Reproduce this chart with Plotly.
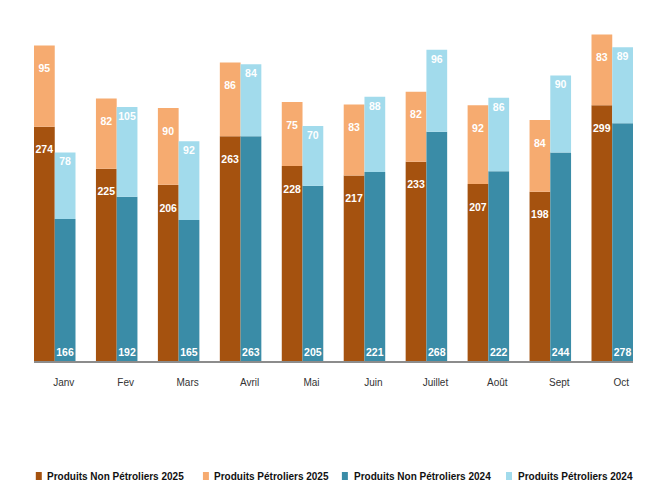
import plotly.graph_objects as go

months = ["Janv", "Fev", "Mars", "Avril", "Mai", "Juin", "Juillet", "Août", "Sept", "Oct"]
non_pet_2025 = [274, 225, 206, 263, 228, 217, 233, 207, 198, 299]
pet_2025 = [95, 82, 90, 86, 75, 83, 82, 92, 84, 83]
non_pet_2024 = [166, 192, 165, 263, 205, 221, 268, 222, 244, 278]
pet_2024 = [78, 105, 92, 84, 70, 88, 96, 86, 90, 89]

series_names = ["Produits Non Pétroliers 2025", "Produits Pétroliers 2025",
                "Produits Non Pétroliers 2024", "Produits Pétroliers 2024"]
colors = ["#A5520F", "#F6AB70", "#3A8CA7", "#A2DBEC"]

FONT = "Liberation Sans, Arial, sans-serif"
lab_font = dict(family=FONT, size=10.5, color="white")

fig = go.Figure()

def bar(i, y, base, group, anchor, pad_top):
    txt = [("\u00a0<br>" if pad_top else "") + f"<b>{v}</b>" for v in y]
    fig.add_trace(go.Bar(
        name=series_names[i], x=months, y=y, base=base, offsetgroup=group,
        marker=dict(color=colors[i], line=dict(width=0)),
        text=txt, textposition="inside",
        insidetextanchor=anchor, textangle=0, constraintext="none",
        textfont=lab_font, hoverinfo="skip", showlegend=False,
    ))

bar(0, non_pet_2025, None, "2025", "end", True)
bar(1, pet_2025, non_pet_2025, "2025", "end", True)
bar(2, non_pet_2024, None, "2024", "start", False)
bar(3, pet_2024, non_pet_2024, "2024", "end", False)

# custom legend (markers + labels) below the plot
leg_marker_x = [0.003, 0.282, 0.514, 0.788]
leg_text_x = [0.018, 0.297, 0.531, 0.805]
shapes = []
annotations = []
for i, name in enumerate(series_names):
    shapes.append(dict(type="rect", xref="paper", yref="paper",
                       x0=leg_marker_x[i], x1=leg_marker_x[i] + 0.010,
                       y0=-0.348, y1=-0.3246,
                       fillcolor=colors[i], line=dict(width=0)))
    annotations.append(dict(xref="paper", yref="paper", x=leg_text_x[i], y=-0.339,
                            xanchor="left", yanchor="middle", showarrow=False,
                            text=f"<b>{name}</b>",
                            font=dict(family=FONT, size=10, color="#111111")))

fig.update_layout(
    width=647, height=497,
    barmode="group", bargap=0.33, bargroupgap=0,
    plot_bgcolor="white", paper_bgcolor="white",
    margin=dict(l=26, r=22, t=11, b=144),
    font=dict(family=FONT, color="#222222"),
    showlegend=False,
    shapes=shapes, annotations=annotations,
    xaxis=dict(range=[-0.335, 9.335], showgrid=False, showline=True, linecolor="#8c8c8c",
               linewidth=2, ticks="", tickfont=dict(family=FONT, size=10, color="#333333"),
               ticklabelstandoff=11, ticklabelshift=9),
    yaxis=dict(range=[0, 400], visible=False, showgrid=False, zeroline=False),
)

fig.write_html("out.html")
